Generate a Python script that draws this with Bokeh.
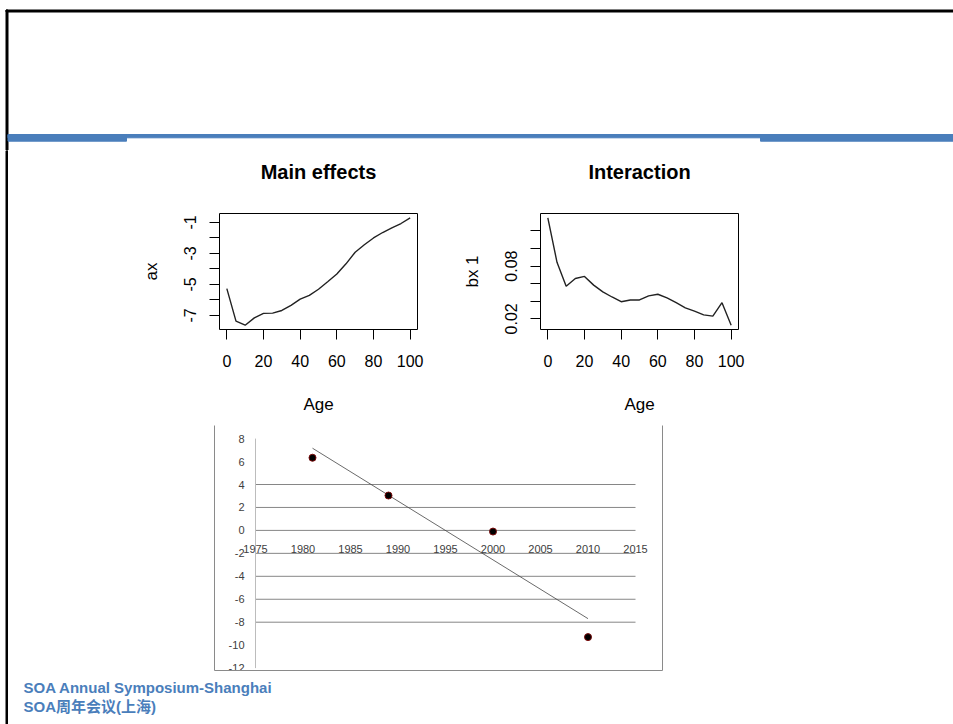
import numpy as np
from bokeh.plotting import figure
from bokeh.layouts import column, row
from bokeh.models import Range1d, FixedTicker, LinearAxis, Title
from bokeh.core.properties import value
from bokeh.embed import file_html
from bokeh.resources import INLINE

# ---------------- data ----------------
ages = [0, 5, 10, 15, 20, 25, 30, 35, 40, 45, 50,
        55, 60, 65, 70, 75, 80, 85, 90, 95, 100]
ax_values = [-5.27, -7.37, -7.63, -7.16, -6.87, -6.85, -6.68, -6.35, -5.95, -5.70, -5.31,
             -4.83, -4.33, -3.67, -2.92, -2.44, -2.00, -1.65, -1.35, -1.07, -0.70]
bx_values = [0.135, 0.0844, 0.0572, 0.066, 0.0683, 0.0584, 0.0507, 0.0449, 0.0395, 0.0415, 0.0415,
             0.0461, 0.048, 0.0438, 0.0384, 0.0326, 0.0288, 0.0246, 0.0231, 0.0384, 0.0128]

age_ticks = [0, 20, 40, 60, 80, 100]
ax_ticks = [-7, -6, -5, -4, -3, -2, -1]
ax_tick_labels = ["-7", "", "-5", "", "-3", "", "-1"]
bx_ticks = [0.02, 0.04, 0.06, 0.08, 0.10, 0.12]
bx_tick_labels = ["0.02", "", "", "0.08", "", ""]

kt_years = [1981, 1989, 2000, 2010]
kt_values = [6.33, 3.04, -0.10, -9.30]
year_ticks = [1975, 1980, 1985, 1990, 1995, 2000, 2005, 2010, 2015]
kt_ticks = [8, 6, 4, 2, 0, -2, -4, -6, -8, -10, -12]
kt_gridlines = [4, 2, 0, -2, -4, -6, -8]

footer_lines = ["SOA Annual Symposium-Shanghai", "SOA周年会议(上海)"]

# ---------------- styling ----------------
SLIDE_W, SLIDE_H = 953, 724
BLUE = "#4a7ebb"
R_FONT = value("Liberation Sans")


def canvas(w, h):
    """A bare drawing surface measured in pixels (y downwards)."""
    c = figure(width=w, height=h, x_range=Range1d(0, w), y_range=Range1d(h, 0),
               output_backend="svg", toolbar_location=None,
               x_axis_location=None, y_axis_location=None,
               min_border=0)
    c.grid.visible = False
    c.outline_line_color = None
    c.background_fill_color = "white"
    c.border_fill_color = "white"
    return c


def r_range(vals):
    lo, hi = min(vals), max(vals)
    pad = 0.04 * (hi - lo)
    return Range1d(lo - pad, hi + pad)


def r_panel(title, xlab, ylab, x, y, yticks, ylabels, width, left):
    frame_w, frame_h, top, height = 198, 116, 63, 270
    p = figure(width=width, height=height,
               x_range=r_range(x), y_range=r_range(y),
               output_backend="svg", toolbar_location=None, title_location=None,
               min_border_left=left, min_border_right=width - left - frame_w,
               min_border_top=top, min_border_bottom=height - top - frame_h)
    p.grid.visible = False
    p.outline_line_color = "black"
    p.outline_line_alpha = 1
    p.outline_line_width = 1
    p.background_fill_color = "white"
    p.border_fill_color = "white"

    # blank band between frame and title (R's title sits well above the box)
    p.add_layout(Title(text=" ", text_font_size="10px", standoff=18), "above")
    p.add_layout(Title(text=title, align="center", text_font="Liberation Sans",
                       text_font_size="20px", text_font_style="bold",
                       text_color="black", standoff=0), "above")

    xa = p.xaxis[0]
    xa.ticker = FixedTicker(ticks=age_ticks)
    ya = p.yaxis[0]
    ya.ticker = FixedTicker(ticks=yticks)
    ya.major_label_overrides = {t: lab for t, lab in zip(yticks, ylabels)}
    ya.major_label_orientation = "parallel"
    for a in (xa, ya):
        a.axis_line_color = None
        a.major_tick_out = 10
        a.major_tick_in = 0
        a.major_tick_line_color = "black"
        a.minor_tick_line_color = None
        a.major_label_text_font = "Liberation Sans"
        a.major_label_text_font_size = "16px"
        a.major_label_text_color = "black"
        a.axis_label_text_font = "Liberation Sans"
        a.axis_label_text_font_size = "17px"
        a.axis_label_text_font_style = "normal"
        a.axis_label_text_color = "black"
    xa.axis_label = xlab
    xa.major_label_standoff = 15
    xa.axis_label_standoff = 25
    ya.axis_label = ylab
    ya.major_label_standoff = 13
    ya.axis_label_standoff = 21

    p.line(x, y, line_color="#222222", line_width=1.4)
    return p


# ---------------- slide header ----------------
header = canvas(SLIDE_W, 150)
header.quad(left=5.5, right=SLIDE_W, top=9.5, bottom=11.5, color="black")
header.quad(left=5.5, right=7.5, top=9.5, bottom=150, color="black")
header.quad(left=7.5, right=SLIDE_W, top=134, bottom=137.3, color=BLUE)
header.quad(left=[7.5, 760], right=[126, SLIDE_W], top=[134, 134], bottom=[140.7, 140.7], color=BLUE)

strip = canvas(8, SLIDE_H - 150)
strip.quad(left=5.5, right=7.5, top=0, bottom=SLIDE_H - 150, color="black")

# ---------------- Lee-Carter panels ----------------
p1 = r_panel("Main effects", "Age", "ax", ages, ax_values, ax_ticks, ax_tick_labels,
             width=442, left=211)
p2 = r_panel("Interaction", "Age", "bx 1", ages, bx_values, bx_ticks, bx_tick_labels,
             width=503, left=90)

# ---------------- kt trend chart ----------------
px_per_year, px_per_unit = 9.5, 11.475
x0 = year_ticks[0] - 41 / px_per_year
y_top = (529.9 - 425) / px_per_unit
p3 = figure(width=945, height=256,
            x_range=Range1d(x0, x0 + 448 / px_per_year),
            y_range=Range1d(y_top - 245 / px_per_unit, y_top),
            output_backend="svg", toolbar_location=None,
            x_axis_location=None, y_axis_location=None,
            min_border_left=206, min_border_right=291,
            min_border_top=5, min_border_bottom=6)
p3.grid.visible = False
p3.outline_line_color = None
p3.background_fill_color = "white"
p3.border_fill_color = "white"
for side in ("left", "right", "below"):
    edge = LinearAxis(ticker=FixedTicker(ticks=[]), axis_line_color="#8a8a8a",
                      major_tick_out=0, major_tick_in=0, minor_tick_out=0, minor_tick_in=0,
                      major_label_standoff=0, major_label_text_font_size="0px")
    p3.add_layout(edge, side)

n_grid = len(kt_gridlines)
p3.segment(x0=[year_ticks[0]] * n_grid, x1=[year_ticks[-1]] * n_grid,
           y0=kt_gridlines, y1=kt_gridlines, line_color="#868686", line_width=1)
p3.segment(x0=[year_ticks[0]], x1=[year_ticks[0]], y0=[min(kt_ticks)], y1=[max(kt_ticks)],
           line_color="#bcbcbc", line_width=1)

p3.text(x=[year_ticks[0]] * len(kt_ticks), y=kt_ticks, text=[str(v) for v in kt_ticks],
        text_align="right", text_baseline="middle", x_offset=-11,
        text_font=R_FONT, text_font_size="11px", text_color="#404040")
p3.text(x=year_ticks, y=[0] * len(year_ticks), text=[str(v) for v in year_ticks],
        text_align="center", text_baseline="middle", y_offset=19,
        text_font=R_FONT, text_font_size="11px", text_color="#404040")

slope, intercept = np.polyfit(kt_years, kt_values, 1)
trend_x = [min(kt_years), max(kt_years)]
p3.line(trend_x, [slope * t + intercept for t in trend_x], line_color="#444444", line_width=0.8)
p3.scatter(kt_years, kt_values, size=7, fill_color="black", line_color="#7a0a0a", line_width=1)

# ---------------- footer ----------------
footer = canvas(945, 48)
footer.text(x=[15, 15], y=[11, 29.5], text=footer_lines,
            text_font=value("Liberation Sans, Noto Sans CJK SC"), text_font_size="15px",
            text_font_style="bold", text_color=BLUE, text_baseline="middle")

layout = column(header, row(strip, column(row(p1, p2), row(p3), row(footer))))

open("out.html", "w").write(file_html(layout, INLINE))
